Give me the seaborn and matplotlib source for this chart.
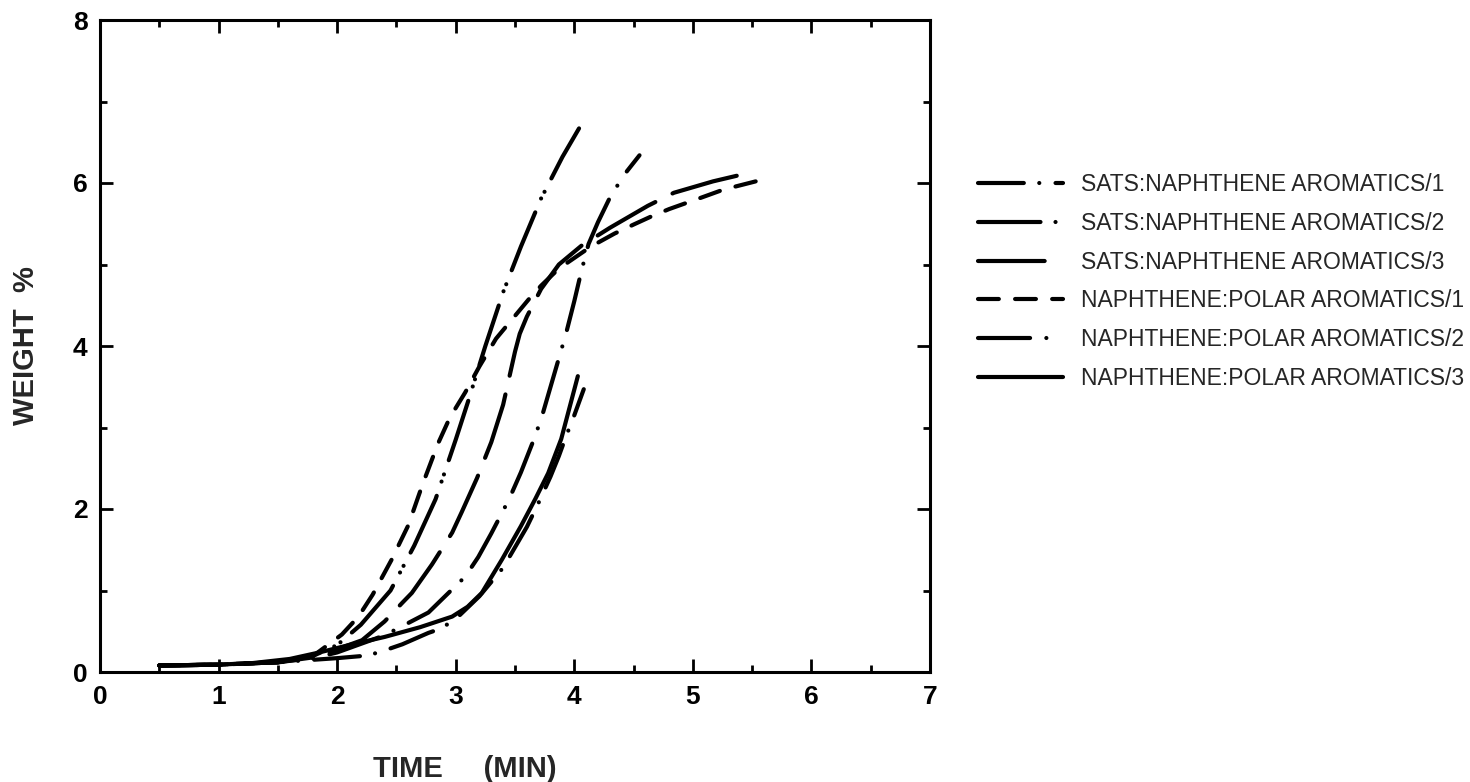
import matplotlib
matplotlib.use("Agg")
import matplotlib.pyplot as plt
from matplotlib.ticker import MultipleLocator
import seaborn as sns

# Retention curves: weight % eluted versus time (min)
series_names = [
    "SATS:NAPHTHENE AROMATICS/1",
    "SATS:NAPHTHENE AROMATICS/2",
    "SATS:NAPHTHENE AROMATICS/3",
    "NAPHTHENE:POLAR AROMATICS/1",
    "NAPHTHENE:POLAR AROMATICS/2",
    "NAPHTHENE:POLAR AROMATICS/3",
]

sats1_time = [0.5, 1.0, 1.5, 1.8, 2.0, 2.24, 2.35, 2.55, 2.77, 2.87, 3.0, 3.2,
              3.4, 3.6, 3.7, 3.8, 3.87, 3.93, 4.0, 4.08]
sats1_wt = [0.08, 0.09, 0.12, 0.15, 0.17, 0.2, 0.24, 0.34, 0.48, 0.53, 0.65, 0.93,
            1.28, 1.78, 2.08, 2.4, 2.65, 2.89, 3.15, 3.47]

sats2_time = [0.5, 1.0, 1.5, 1.8, 2.0, 2.2, 2.45, 2.65, 2.83, 3.0, 3.1, 3.25,
              3.4, 3.55, 3.72, 3.9, 4.04]
sats2_wt = [0.08, 0.09, 0.12, 0.2, 0.33, 0.58, 1.0, 1.55, 2.12, 2.85, 3.3, 4.0,
            4.66, 5.22, 5.81, 6.32, 6.67]

sats3_time = [0.5, 1.0, 1.5, 1.8, 2.0, 2.21, 2.4, 2.55, 2.63, 2.8, 2.97, 3.05,
              3.18, 3.3, 3.4, 3.5, 3.54, 3.6, 3.72, 3.87, 4.06, 4.3, 4.62, 4.84,
              5.17, 5.49]
sats3_wt = [0.08, 0.09, 0.12, 0.18, 0.28, 0.39, 0.62, 0.85, 0.97, 1.32, 1.71, 1.96,
            2.38, 2.82, 3.28, 3.93, 4.15, 4.36, 4.70, 5.0, 5.23, 5.45, 5.72, 5.88,
            6.02, 6.13]

np1_time = [0.5, 1.0, 1.5, 1.8, 2.04, 2.18, 2.3, 2.46, 2.6, 2.72, 2.85, 2.95,
            3.08, 3.2, 3.34, 3.5, 3.62, 3.72, 3.87, 4.0, 4.14, 4.34, 4.5, 4.65,
            4.8, 5.07, 5.26, 5.53]
np1_wt = [0.08, 0.09, 0.12, 0.2, 0.46, 0.68, 0.95, 1.38, 1.8, 2.3, 2.8, 3.12,
          3.43, 3.75, 4.09, 4.37, 4.58, 4.74, 4.95, 5.08, 5.22, 5.38, 5.49, 5.59,
          5.68, 5.82, 5.92, 6.02]

np2_time = [0.5, 1.0, 1.5, 1.8, 2.0, 2.4, 2.77, 3.08, 3.19, 3.3, 3.45, 3.55,
            3.65, 3.72, 3.79, 3.93, 4.0, 4.06, 4.12, 4.2, 4.3, 4.42, 4.55]
np2_wt = [0.08, 0.09, 0.12, 0.17, 0.24, 0.45, 0.73, 1.17, 1.41, 1.7, 2.12, 2.45,
          2.82, 3.10, 3.45, 4.15, 4.55, 4.92, 5.25, 5.52, 5.82, 6.1, 6.34]

np3_time = [0.5, 1.0, 1.29, 1.6, 1.85, 2.1, 2.4, 2.7, 2.97, 3.1, 3.22, 3.39,
            3.55, 3.67, 3.78, 3.89, 3.97, 4.03]
np3_wt = [0.08, 0.09, 0.11, 0.16, 0.24, 0.33, 0.43, 0.55, 0.68, 0.8, 0.97, 1.38,
          1.79, 2.12, 2.44, 2.86, 3.3, 3.63]

x_ticks = [0, 1, 2, 3, 4, 5, 6, 7]
y_ticks = [0, 2, 4, 6, 8]

sns.set_style("ticks")
plt.rcParams["font.family"] = ["Liberation Sans", "DejaVu Sans"]

fig = plt.figure(figsize=(14.7, 7.82), dpi=100)
ax = fig.add_axes([100 / 1470, 1 - 672 / 782, 830 / 1470, 652 / 782])

# line patterns (in units of line width, round caps)
styles = [
    (0, (11, 3.7, 0.01, 3.9)),                 # dash-dot
    (0, (15, 3.6, 0.01, 1.8, 0.01, 3.6)),      # dash-dot-dot
    (0, (16, 4.6)),                            # long dash
    (0, (5, 3.9)),                             # medium dash
    (0, (12.5, 3.9, 0.01, 4.1)),               # dash-dot
    "-",                                       # solid
]

curves = [
    (sats1_time, sats1_wt),
    (sats2_time, sats2_wt),
    (sats3_time, sats3_wt),
    (np1_time, np1_wt),
    (np2_time, np2_wt),
    (np3_time, np3_wt),
]

for (xs, ys), name, ls in zip(curves, series_names, styles):
    sns.lineplot(x=xs, y=ys, ax=ax, color="black", linewidth=3.0,
                 linestyle=ls, dash_capstyle="round", solid_capstyle="round",
                 label=name, sort=False, estimator=None)

ax.set_xlim(0, 7)
ax.set_ylim(0, 8)
ax.set_xticks(x_ticks)
ax.set_yticks(y_ticks)
ax.xaxis.set_minor_locator(MultipleLocator(0.5))
ax.yaxis.set_minor_locator(MultipleLocator(1))
ax.tick_params(which="both", direction="in", top=True, right=True,
               width=2.0, colors="black")
ax.tick_params(which="major", length=9.5, labelsize=19, pad=9)
ax.tick_params(which="minor", length=5)
for lbl in ax.get_xticklabels() + ax.get_yticklabels():
    lbl.set_fontweight("bold")
for sp in ax.spines.values():
    sp.set_linewidth(2.2)
    sp.set_color("black")

ax.set_xlabel("TIME     (MIN)", fontsize=21, fontweight="bold")
ax.xaxis.set_label_coords(0.44, -0.128)
ax.set_ylabel("WEIGHT  %", fontsize=21, fontweight="bold")
ax.yaxis.set_label_coords(-0.072, 0.5)

handles, labels = ax.get_legend_handles_labels()
ax.legend(handles, labels, loc="upper left",
          bbox_to_anchor=(978 / 1470, 1 - 173 / 782),
          bbox_transform=fig.transFigure, frameon=False, fontsize=16.5,
          handlelength=3.7, handletextpad=0.8, labelspacing=0.69,
          borderpad=0, borderaxespad=0)

fig.savefig("out.png", dpi=100, facecolor="white")
